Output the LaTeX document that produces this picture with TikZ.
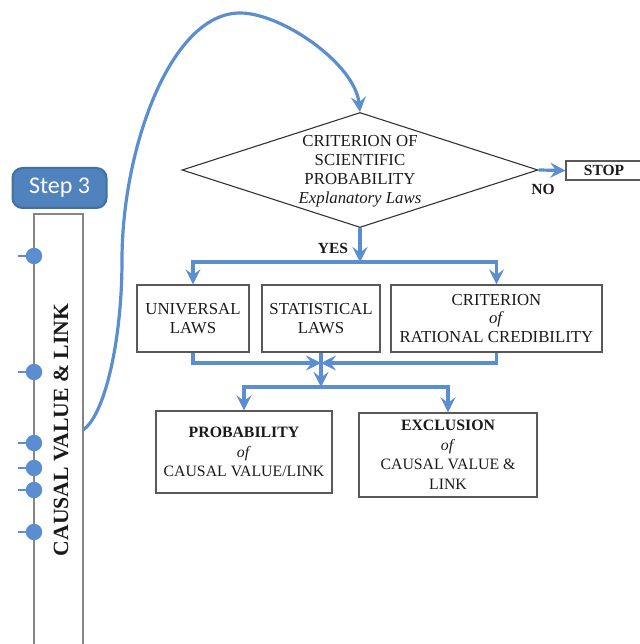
\documentclass[tikz,border=0pt]{standalone}
\usepackage{fontspec}
\setmainfont{Liberation Serif}
\newfontfamily\stepfont{Carlito}
\usetikzlibrary{arrows.meta,shapes.geometric}
\definecolor{flowblue}{HTML}{5A8ED0}
\definecolor{stepfill}{HTML}{5082BE}
\definecolor{stepedge}{HTML}{41719C}
\definecolor{boxgray}{HTML}{595959}
\definecolor{railgray}{HTML}{858585}
\definecolor{inkblack}{HTML}{1A1A1A}

\begin{document}
\begin{tikzpicture}[x=1pt,y=-1pt,
  flow/.style={draw=flowblue, line width=3.2pt, -{Stealth[length=15pt,width=15pt,inset=5.5pt]}},
  wire/.style={draw=flowblue, line width=3.2pt},
  lawbox/.style={draw=boxgray, line width=1.3pt, rectangle, inner sep=0pt, align=center,
    text=inkblack, font=\fontsize{16.8}{18.8}\selectfont},
  outbox/.style={lawbox, font=\fontsize{15.8}{19.5}\selectfont},
  tagtext/.style={text=inkblack, font=\bfseries\fontsize{15.5}{16}\selectfont},
  railpoint/.style={circle, fill=flowblue, inner sep=0pt, minimum size=16.5pt},
]
\useasboundingbox (0,0) rectangle (639,644);

% ---- step marker and its rail ----
\node[draw=stepedge, fill=stepfill, rounded corners=10pt, line width=2pt,
      minimum width=94pt, minimum height=40pt, inner sep=0pt, text=white,
      font=\stepfont\fontsize{24}{24}\selectfont] (step) at (59.5,188) {Step 3};

\draw[railgray, line width=1.9pt] (34,650) -- (34,214) -- (83,214) -- (83,650);
\node[rotate=90, text=inkblack, font=\bfseries\fontsize{21.7}{24}\selectfont]
      (causal) at (61,430) {CAUSAL VALUE \& LINK};

\foreach \yy [count=\i] in {256,372,443,468,490,532} {
  \coordinate (tick\i) at (18,\yy);
  \node[railpoint] (pt\i) at (34,\yy) {};
  \draw[wire, line width=2.4pt] (tick\i) -- (pt\i.center);
}
\coordinate (railexit) at (83,430);

% ---- decision ----
\node[diamond, draw=black!80, line width=1.1pt, minimum width=356pt,
      minimum height=115pt, inner sep=0pt] (crit) at (360,170) {};
\node[align=center, text=inkblack, font=\fontsize{16.8}{19}\selectfont]
      (critlabel) at (360,171.5)
      {CRITERION OF\\SCIENTIFIC\\PROBABILITY\\\textit{Explanatory Laws}};

\draw[flow] (railexit) .. controls (105,415) and (122,340) .. (122,260)
            .. controls (122,150) and (170,13) .. (240,13)
            .. controls (282,13) and (355,64) .. (crit.north);

\node[draw=boxgray, line width=1.3pt, minimum width=76pt, minimum height=19pt,
      inner sep=0pt, tagtext] (stop) at (604,170.5) {STOP};
\draw[flow] (crit.east) -- (stop.west);
\node[tagtext] (no) at (543,189) {NO};

% ---- laws ----
\node[lawbox, minimum width=112pt, minimum height=67pt] (univ) at (193,318.5)
      {UNIVERSAL\\LAWS};
\node[lawbox, minimum width=118pt, minimum height=67pt] (stat) at (321,318.5)
      {STATISTICAL\\LAWS};
\node[lawbox, minimum width=211pt, minimum height=67pt] (rat) at (496.5,318.5)
      {CRITERION\\\textit{of}\\RATIONAL CREDIBILITY};

\coordinate (busA) at (360,262);
\draw[flow] (crit.south) -- (busA);
\node[tagtext] (yes) at (333,248) {YES};
\draw[flow] (busA) -| (univ.north);
\draw[flow] (busA) -| (rat.north);

% ---- outcomes ----
\node[outbox, minimum width=176pt, minimum height=82pt] (prob) at (244,452)
      {\textbf{PROBABILITY}\\\textit{of}\\CAUSAL VALUE/LINK};
\node[outbox, minimum width=178pt, minimum height=84pt] (excl) at (448,455)
      {\textbf{EXCLUSION}\\\textit{of}\\CAUSAL VALUE \&\\LINK};

\coordinate (merge) at (321,363);
\coordinate (busB) at (321,387);
\draw[flow] (univ.south) |- (merge);
\draw[flow] (rat.south) |- (merge);
\draw[flow] (stat.south) -- (busB);
\draw[flow] (busB) -| (prob.north);
\draw[flow] (busB) -| (excl.north);
\end{tikzpicture}
\end{document}
